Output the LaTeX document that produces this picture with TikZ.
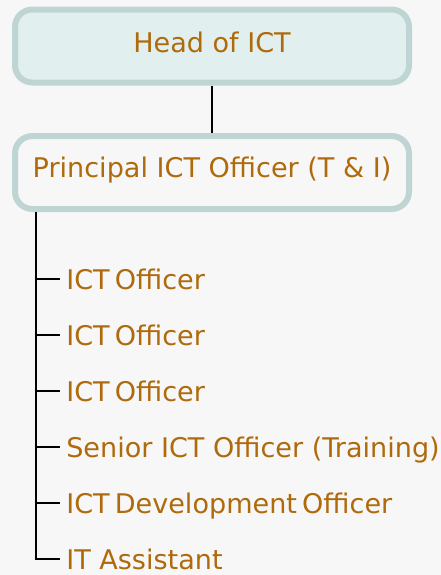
\documentclass[tikz,border=0pt]{standalone}
\usepackage{fontspec}
\setmainfont{DejaVu Sans}
\definecolor{bgc}{HTML}{F7F7F7}
\definecolor{txt}{HTML}{AF6A0C}
\definecolor{bord}{HTML}{BFD5D4}
\definecolor{headfill}{HTML}{E1F0EF}
\newcommand{\tsp}{\hspace{0.19em}}
\begin{document}
\begin{tikzpicture}[x=0.75pt,y=-0.75pt,
  txtfont/.style={font=\fontsize{20.3pt}{24pt}\selectfont},
  box/.style={draw=bord,line width=4.5pt,rounded corners=13pt,minimum width=394*0.75pt,minimum height=73*0.75pt,inner sep=0pt},
  btxt/.style={anchor=base,inner sep=0pt,text=txt,txtfont},
  lbl/.style={anchor=base west,inner sep=0pt,text=txt,txtfont},
  conn/.style={line width=1.5pt,black}]
\fill[bgc] (0,0) rectangle (441,575);
\useasboundingbox (0,0) rectangle (441,575);
\node[box,fill=headfill] (head) at (212,46) {};
\node[btxt] (headt) at (212,52.5) {Head of ICT};
\node[box,fill=bgc] (pio) at (212,172.5) {};
\node[btxt] (piot) at (212,177) {Principal ICT Officer (T \& I)};
\draw[conn] (head.south) -- (pio.north);
\coordinate (top) at (36,212);
\node[lbl] (c1) at (66,289.6) {ICT\tsp Officer};
\node[lbl] (c2) at (66,345.3) {ICT\tsp Officer};
\node[lbl] (c3) at (66,401.3) {ICT\tsp Officer};
\node[lbl] (c4) at (66,457) {Senior ICT Officer (Training)};
\node[lbl] (c5) at (66,513) {ICT\tsp Development\tsp Officer};
\node[lbl] (c6) at (66,569.6) {IT Assistant};
\coordinate (b1) at (36,279.3);
\coordinate (b2) at (36,335);
\coordinate (b3) at (36,391);
\coordinate (b4) at (36,446.7);
\coordinate (b5) at (36,502.7);
\coordinate (b6) at (36,559.3);
\draw[conn] (top) -- (b6) -- (60,559.3);
\foreach \i in {1,...,5} \draw[conn] (b\i) -- ++(24,0);
\end{tikzpicture}
\end{document}
